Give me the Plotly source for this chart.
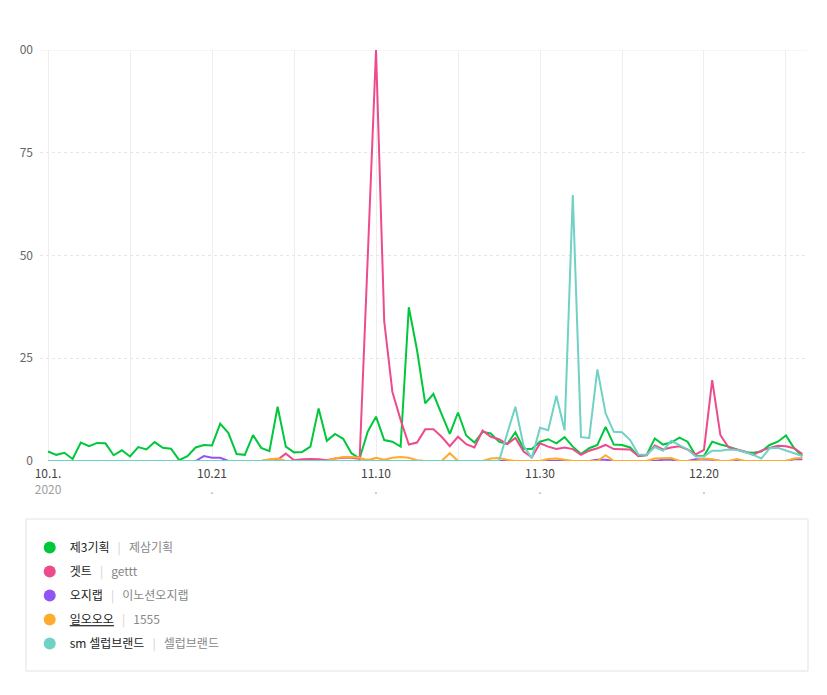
import pandas as pd
import plotly.graph_objects as go

dates = pd.date_range("2020-10-01", periods=93, freq="D")

green = [2.3, 1.5, 2.0, 0.5, 4.5, 3.6, 4.4, 4.3, 1.4, 2.6,
         1.1, 3.4, 2.8, 4.6, 3.2, 3.0, 0.2, 1.2, 3.3, 3.9,
         3.8, 9.1, 6.8, 1.7, 1.5, 6.3, 3.2, 2.4, 13.2, 3.5,
         2.1, 2.2, 3.5, 12.8, 4.9, 6.6, 5.4, 1.9, 0.6, 7.2,
         10.8, 5.1, 4.7, 3.5, 37.4, 27.0, 14.0, 16.3, 11.4, 6.6,
         11.8, 6.2, 4.5, 7.1, 6.7, 4.7, 4.1, 7.0, 3.0, 2.9,
         4.7, 5.3, 4.3, 5.8, 3.5, 1.7, 3.1, 3.9, 8.3, 4.0,
         3.9, 3.3, 1.2, 1.5, 5.5, 4.0, 4.5, 5.7, 4.7, 1.3,
         1.2, 4.7, 4.0, 3.5, 2.8, 2.1, 2.0, 2.3, 3.9, 4.7,
         6.2, 3.1, 1.2]

pink = [0, 0, 0, 0, 0, 0, 0, 0, 0, 0,
        0, 0, 0, 0, 0, 0, 0, 0, 0, 0,
        0, 0, 0, 0, 0, 0, 0, 0.3, 0.3, 1.8,
        0.2, 0.4, 0.5, 0.4, 0.2, 0.6, 0.8, 0.8, 0.5, 50,
        100, 34, 16.8, 10, 4.0, 4.5, 7.7, 7.7, 5.9, 3.6,
        5.9, 4.1, 3.3, 7.4, 5.9, 5.3, 4.1, 5.6, 2.3, 0.9,
        4.3, 3.5, 2.9, 3.3, 2.9, 1.5, 2.5, 3.1, 3.9, 2.9,
        2.9, 2.8, 1.2, 1.4, 3.8, 2.8, 3.3, 3.6, 2.8, 1.6,
        2.7, 19.7, 6.3, 3.3, 2.8, 2.3, 1.5, 2.5, 3.2, 3.7,
        3.6, 3.1, 1.7]

purple = [0, 0, 0, 0, 0, 0, 0, 0, 0, 0,
          0, 0, 0, 0, 0, 0, 0, 0, 0, 1.2,
          0.8, 0.8, 0, 0, 0, 0, 0, 0, 0, 0,
          0, 0, 0, 0, 0, 0, 0, 0, 0, 0.3,
          0, 0, 0, 0, 0, 0, 0, 0, 0, 0,
          0, 0, 0, 0, 0, 0, 0, 0, 0, 0,
          0, 0, 0, 0, 0, 0, 0, 0.3, 0.3, 0,
          0, 0, 0, 0, 0, 0.3, 0.3, 0, 0, 0.4,
          0.4, 0.3, 0, 0, 0, 0, 0, 0, 0, 0,
          0, 0.4, 0.4]

orange = [0, 0, 0, 0, 0, 0, 0, 0, 0, 0,
          0, 0, 0, 0, 0, 0, 0, 0, 0, 0,
          0, 0, 0, 0, 0, 0, 0, 0.4, 0.6, 0,
          0, 0, 0, 0, 0, 0.6, 1.0, 1.0, 0.8, 0.2,
          0.8, 0.3, 0.8, 1.0, 0.8, 0.2, 0, 0, 0, 1.9,
          0, 0, 0, 0, 0.6, 0.7, 0.3, 0, 0, 0,
          0, 0.5, 0.6, 0.3, 0, 0, 0, 0, 1.4, 0,
          0, 0, 0, 0, 0.6, 0.7, 0.7, 0, 0, 0,
          0.6, 0.4, 0, 0, 0.5, 0, 0, 0, 0, 0,
          0, 0.6, 0.8]

teal = [0] * 56 + [6.7, 13.2, 3.7, 0.7,
                   8.1, 7.5, 15.9, 7.5, 64.7, 5.8, 5.6, 22.3, 11.6, 7.1,
                   7.0, 5.1, 1.6, 1.5, 3.4, 2.5, 4.9, 3.9, 2.8, 1.1,
                   1.1, 2.5, 2.5, 2.8, 2.7, 2.2, 1.5, 0.6, 3.1, 3.2,
                   2.5, 1.9, 1.2]

names = ["제3기획", "겟트", "오지랩", "일오오오", "sm 셀럽브랜드"]
aliases = ["제삼기획", "gettt", "이노션오지랩", "1555", "셀럽브랜드"]
colors = ["#00c73c", "#ec4c8c", "#9255f5", "#ffab2b", "#6fd2c4"]
series = [green, pink, purple, orange, teal]

tick_dates = pd.date_range("2020-10-01", "2020-12-30", freq="10D")
tick_text = ["10.1.<br><span style='color:#a0a0a0'>2020</span>", "",
             "10.21<br><span style='color:#b0b0b0'>.</span>", "",
             "11.10<br><span style='color:#b0b0b0'>.</span>", "",
             "11.30<br><span style='color:#b0b0b0'>.</span>", "",
             "12.20<br><span style='color:#b0b0b0'>.</span>", ""]
y_ticks = [0, 25, 50, 75, 100]
y_text = ["0", "25", "50", "75", "00"]

FONT = "Noto Sans CJK KR, Noto Sans, sans-serif"

fig = go.Figure()
for vals, col, nm in zip(series, colors, names):
    fig.add_trace(go.Scatter(x=dates, y=vals, mode="lines", name=nm,
                             line=dict(color=col, width=2),
                             cliponaxis=False, showlegend=False,
                             hoverinfo="skip"))

for i, (nm, al, col) in enumerate(zip(names, aliases, colors)):
    label = f"<u>{nm}</u>" if i == 3 else nm
    fig.add_trace(go.Scatter(
        x=[None], y=[None], mode="markers",
        marker=dict(color=col, size=12, symbol="circle"),
        name=f"{label}   <span style='color:#d0d0d0'>|</span>   <span style='color:#888888'>{al}</span>",
        legendgroup=f"g{i}", showlegend=True))

x0 = dates[0] - pd.Timedelta(hours=23.5)
x1 = dates[-1] + pd.Timedelta(hours=13.5)

fig.update_layout(
    width=819, height=687,
    margin=dict(l=32, r=20, t=42, b=234),
    paper_bgcolor="white", plot_bgcolor="white",
    font=dict(family=FONT, size=12, color="#444444"),
    xaxis=dict(range=[x0, x1], tickmode="array", tickvals=tick_dates,
               ticktext=tick_text, showgrid=True, gridcolor="#eeeeee",
               gridwidth=1, zeroline=False, showline=False, ticks="",
               ticklabelstandoff=4,
               tickfont=dict(size=12, color="#444444"), fixedrange=True),
    yaxis=dict(range=[0, 100], tickmode="array", tickvals=y_ticks,
               ticktext=y_text, showgrid=True, gridcolor="#e6e6e6",
               griddash="dot", gridwidth=1, zeroline=False, showline=False,
               ticks="", tickfont=dict(size=12, color="#666666"),
               ticklabelstandoff=6, fixedrange=True),
    legend=dict(x=-0.0134, y=-0.175, xanchor="left", yanchor="top",
                orientation="v", traceorder="grouped", tracegroupgap=5,
                bgcolor="rgba(0,0,0,0)", borderwidth=0,
                font=dict(family=FONT, size=12, color="#222222"),
                itemsizing="trace"),
    shapes=[
        dict(type="line", xref="paper", yref="y", x0=0, x1=1, y0=100, y1=100,
             line=dict(color="#eeeeee", width=1), layer="below"),
        dict(type="rect", xref="paper", yref="paper",
             x0=(26 - 40) / 767, x1=(808 - 40) / 767,
             y0=(461 - 671) / 411, y1=(461 - 519) / 411,
             line=dict(color="#e2e2e2", width=1), fillcolor="rgba(0,0,0,0)"),
    ],
    hovermode=False,
)

fig.write_html("out.html")
